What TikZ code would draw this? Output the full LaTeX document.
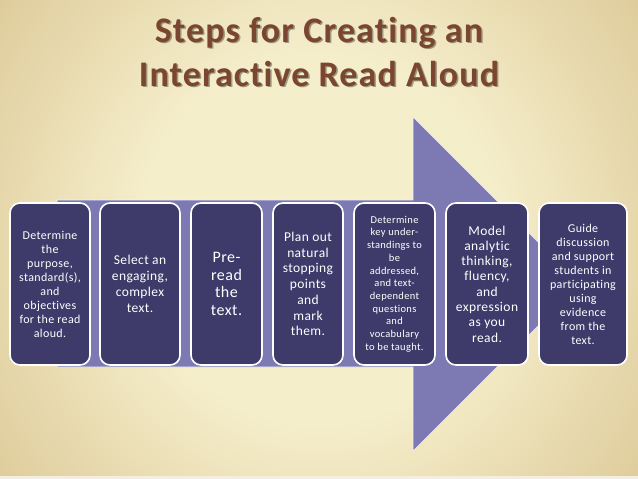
\documentclass[tikz,border=0pt]{standalone}
\usepackage{fontspec}
\setmainfont{Carlito}[Ligatures={NoCommon,NoContextual}]
\definecolor{bglight}{HTML}{F5EECB}
\definecolor{bgmid}{HTML}{E0CE9E}
\definecolor{bgdark}{HTML}{C2A570}
\definecolor{arrowfill}{HTML}{7D7AB3}
\definecolor{boxfill}{HTML}{3E3A69}
\definecolor{titlebrown}{HTML}{7A4630}
\pgfdeclareradialshading{bgshade}{\pgfpoint{0bp}{0bp}}{color(0bp)=(bglight); color(14bp)=(bglight); color(30bp)=(bgmid); color(44bp)=(bgdark); color(70bp)=(bgdark)}
\begin{document}
\begin{tikzpicture}[x=1pt,y=-1pt,
  stepbox/.style={draw=white, line width=1.6pt, fill=boxfill, rounded corners=10pt,
    text=white, align=center, inner sep=0pt, minimum height=162pt},
  titletext/.style={anchor=base, font=\bfseries\fontsize{36}{44}\addfontfeatures{LetterSpace=3}\selectfont, inner sep=0pt}]
\useasboundingbox (0,0) rectangle (638,479);
\begin{scope}
\clip (0,0) rectangle (638,479);
\shade[shading=bgshade] (0,-90) rectangle (638,569);
\end{scope}
\fill[white!80!bgdark] (0,476) rectangle (638,479);
% title
\node[titletext, text=black, opacity=0.35] (t1s) at (320.5,43.5) {Steps for Creating an};
\node[titletext, text=black, opacity=0.35] (t2s) at (320.5,87.5) {Interactive Read Aloud};
\node[titletext, text=titlebrown] (t1) at (319,42) {Steps for Creating an};
\node[titletext, text=titlebrown] (t2) at (319,86) {Interactive Read Aloud};
% arrow
\filldraw[fill=arrowfill, draw=white!90!arrowfill, line width=0.6pt]
  (57,200) -- (413,200) -- (413,117) -- (580,284) -- (413,451) -- (413,367) -- (57,367) -- cycle;
% boxes
\node[stepbox, minimum width=80pt, font=\fontsize{12}{14}\addfontfeatures{LetterSpace=3}\selectfont] (b1) at (50,284)
  {Determine\\the\\purpose,\\standard(s),\\and\\objectives\\for the read\\aloud.};
\node[stepbox, minimum width=80pt, font=\fontsize{13.5}{16}\addfontfeatures{LetterSpace=3}\selectfont] (b2) at (140,284)
  {Select an\\engaging,\\complex\\text.};
\node[stepbox, minimum width=71pt, font=\fontsize{16}{17.5}\addfontfeatures{LetterSpace=3}\selectfont] (b3) at (226.5,284)
  {Pre-\\read\\the\\text.};
\node[stepbox, minimum width=70pt, font=\fontsize{13.5}{15.7}\addfontfeatures{LetterSpace=3}\selectfont] (b4) at (308,284)
  {Plan out\\natural\\stopping\\points\\and\\mark\\them.};
\node[stepbox, minimum width=81pt, font=\fontsize{10.5}{12.7}\addfontfeatures{LetterSpace=3}\selectfont] (b5) at (394.5,284)
  {Determine\\key under-\\standings to\\be\\addressed,\\and text-\\dependent\\questions\\and\\vocabulary\\to be taught.};
\node[stepbox, minimum width=82pt, font=\fontsize{13.5}{15.3}\addfontfeatures{LetterSpace=3}\selectfont] (b6) at (487,284)
  {Model\\analytic\\thinking,\\fluency,\\and\\expression\\as you\\read.};
\node[stepbox, minimum width=88pt, font=\fontsize{12}{14}\addfontfeatures{LetterSpace=3}\selectfont] (b7) at (583,284)
  {Guide\\discussion\\and support\\students in\\participating\\using\\evidence\\from the\\text.};
\end{tikzpicture}
\end{document}
